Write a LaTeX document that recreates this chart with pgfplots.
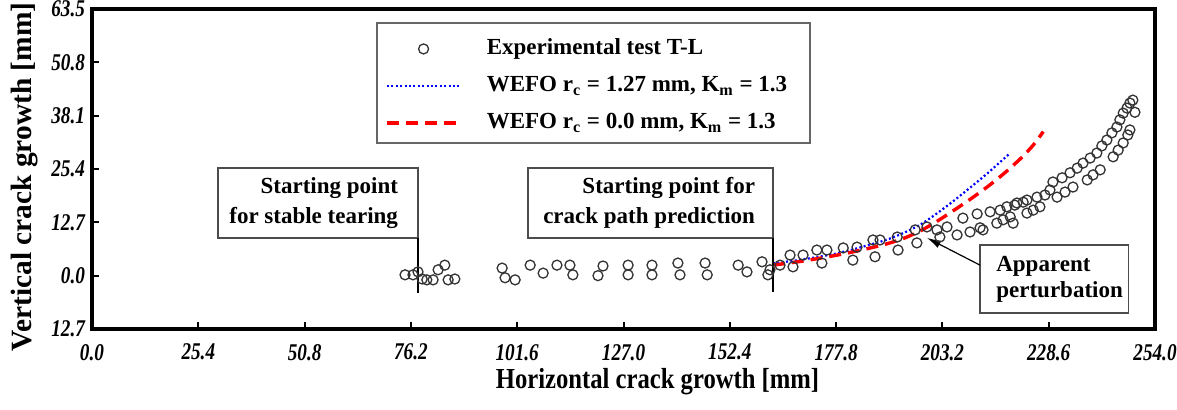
\documentclass[border=0pt]{standalone}
\usepackage{fontspec}
\setmainfont{Liberation Serif}
\newfontfamily\condfont{Liberation Serif}[FakeStretch=0.85]
\newfontfamily\tickfont{Liberation Serif}[FakeStretch=0.8]
\usepackage{pgfplots}
\pgfplotsset{compat=1.18}
\usepackage{pgfplotstable}
\usetikzlibrary{arrows.meta}
\pgfplotsset{
  mylineleg/.style={legend image code/.code={\draw[##1] (0pt,0pt) -- (36.5pt,0pt);}},
  mymarkleg/.style={legend image code/.code={\draw[mark repeat=2,mark phase=2,##1] plot coordinates {(0pt,0pt) (18.25pt,0pt) (36.5pt,0pt)};}},
}
\pgfplotstableread{
x y
74.8 0.2
76.7 0.2
77.9 0.9
78.9 -0.8
80.0 -1.0
81.5 -1.0
82.7 1.4
84.3 2.5
85.1 -1.0
86.7 -0.8
98.0 1.8
98.7 -0.5
101.1 -1.0
104.7 2.5
107.8 0.6
111.1 2.5
114.2 2.5
114.9 0.2
120.9 0.0
122.1 2.3
128.1 2.5
128.1 0.2
133.8 2.5
133.8 0.2
140.0 3.0
140.5 0.2
146.5 3.0
147.0 0.2
154.4 2.5
156.5 0.9
160.1 3.3
161.5 0.2
162.0 1.4
164.4 2.5
166.8 4.9
167.5 2.1
169.9 4.9
173.2 6.1
174.4 3.0
175.6 6.1
179.5 6.6
181.8 3.7
182.8 6.8
186.6 8.5
187.1 4.5
188.3 8.5
192.4 9.2
192.6 6.1
196.7 10.9
197.1 7.8
199.5 11.6
201.9 10.9
202.6 9.2
204.3 11.6
206.7 9.7
209.8 10.4
212.2 11.4
212.9 10.9
216.2 12.5
217.7 13.3
219.4 14.0
220.1 12.5
223.4 14.9
224.9 15.6
226.5 16.4
230.6 18.7
232.5 19.9
234.4 21.1
237.8 22.8
239.2 24.0
240.9 25.2
244.0 28.3
245.2 29.9
246.4 31.6
247.5 33.5
248.0 34.7
249.2 38.9
208.1 13.7
211.5 14.7
214.6 15.2
217.0 15.6
218.6 16.4
220.5 16.8
221.0 17.3
222.5 17.5
223.4 18.0
225.8 18.7
227.7 19.2
228.9 20.4
229.6 22.3
231.8 23.3
233.7 24.5
235.4 25.6
236.8 26.8
238.5 28.0
240.1 29.2
241.3 30.9
242.5 32.3
243.7 34.0
244.9 35.4
245.6 37.1
246.4 38.7
247.3 39.9
248.0 41.1
248.7 41.8
}\expdata
\begin{document}
\begin{tikzpicture}
\begin{axis}[
  scale only axis, width=531.5pt, height=160pt,
  xmin=0, xmax=254, ymin=-12.7, ymax=63.5,
  axis line style={line width=1.6pt},
  xtick={0,25.4,50.8,76.2,101.6,127,152.4,177.8,203.2,228.6,254},
  xticklabels={0.0,25.4,50.8,76.2,101.6,127.0,152.4,177.8,203.2,228.6,254.0},
  ytick={-12.7,0,12.7,25.4,38.1,50.8,63.5},
  yticklabels={12.7,0.0,12.7,25.4,38.1,50.8,63.5},
  tick align=inside, tick pos=left, major tick length=3.5pt,
  every tick/.style={black, line width=1pt},
  ticklabel style={font=\fontsize{12}{13}\tickfont\bfseries\itshape},
  xticklabel style={yshift=-4pt},
  xlabel={Horizontal crack growth [mm]},
  ylabel={Vertical crack growth [mm]},
  xlabel style={at={(axis description cs:0.532,-0.166)}, anchor=center, font=\fontsize{14.5}{16}\condfont\bfseries},
  ylabel style={at={(axis description cs:-0.063,0.475)}, anchor=center, font=\fontsize{14.7}{16}\selectfont\bfseries},
  legend style={at={(0.2756,0.917)}, anchor=north west, draw=none, fill=none, inner sep=0pt,
    font=\fontsize{11.5}{13}\selectfont\bfseries, row sep=5.5pt, cells={anchor=west},
    nodes={inner sep=1pt, text height=8.5pt, text depth=2.5pt},
    /tikz/every odd column/.append style={column sep=11.5pt}},
]
\addplot[only marks, mark=o, mark size=2.5pt, mark options={line width=0.65pt, draw=black!80}, mymarkleg]
  table[x=x,y=y] {\expdata};
\addlegendentry{Experimental test T-L}
\addplot[blue, line width=1.1pt, dash pattern=on 1pt off 1.2pt, smooth, mylineleg]
  coordinates {(162.7,2.9) (170,3.9) (177,5.1) (182,6.3) (186,7.4) (190,8.6) (194,10.2) (198,12.2) (202,14.9) (206,17.9) (210,21.1) (214,24.4) (219.4,29.2)};
\addlegendentry{WEFO r\textsubscript{c} = 1.27 mm, K\textsubscript{m} = 1.3}
\addplot[red, line width=1.7pt, dash pattern=on 6pt off 3.5pt, smooth, mylineleg]
  coordinates {(162.7,2.5) (170,3.5) (177,4.7) (182,5.7) (186,6.6) (190,7.6) (194,8.9) (198,10.7) (202,13.0) (206,15.6) (210,18.3) (214,21.2) (218,24.4) (222,28.0) (225,31.2) (227.3,34.3)};
\addlegendentry{WEFO r\textsubscript{c} = 0.0 mm, K\textsubscript{m} = 1.3}
% legend frame
\draw[line width=0.8pt, black!60] (axis cs:68.1,60.2) rectangle (axis cs:171.6,31.6);
% annotation 1
\draw[line width=0.7pt, black!70] (axis cs:30.1,25.6) rectangle (axis cs:77.9,9.0);
\node[anchor=east, align=right, font=\fontsize{11.5}{15}\selectfont\bfseries] at (axis cs:74.8,17.3) {Starting point\\for stable tearing};
\draw[line width=0.8pt, black] (axis cs:77.9,9.0) -- (axis cs:77.9,-4.1);
% annotation 2
\draw[line width=0.7pt, black!70] (axis cs:104.2,25.6) rectangle (axis cs:162.7,9.0);
\node[anchor=east, align=right, font=\fontsize{11.5}{15}\selectfont\bfseries] at (axis cs:160.1,17.3) {Starting point for\\crack path prediction};
\draw[line width=0.8pt, black] (axis cs:162.7,9.0) -- (axis cs:162.7,-3.9);
% annotation 3
\draw[line width=0.7pt, black!70] (axis cs:212.2,7.3) rectangle (axis cs:247.6,-8.9);
\node[anchor=west, align=left, font=\fontsize{11.5}{13}\selectfont\bfseries] at (axis cs:214.4,-0.8) {Apparent\\perturbation};
\draw[-{Latex[length=7pt,width=4pt]}, line width=0.6pt] (axis cs:212.2,2.5) -- (axis cs:199.5,9.0);
\end{axis}
\pgfresetboundingbox
\path[use as bounding box] (-46pt,-40.5pt) rectangle (542.5pt,164.5pt);
\end{tikzpicture}
\end{document}
